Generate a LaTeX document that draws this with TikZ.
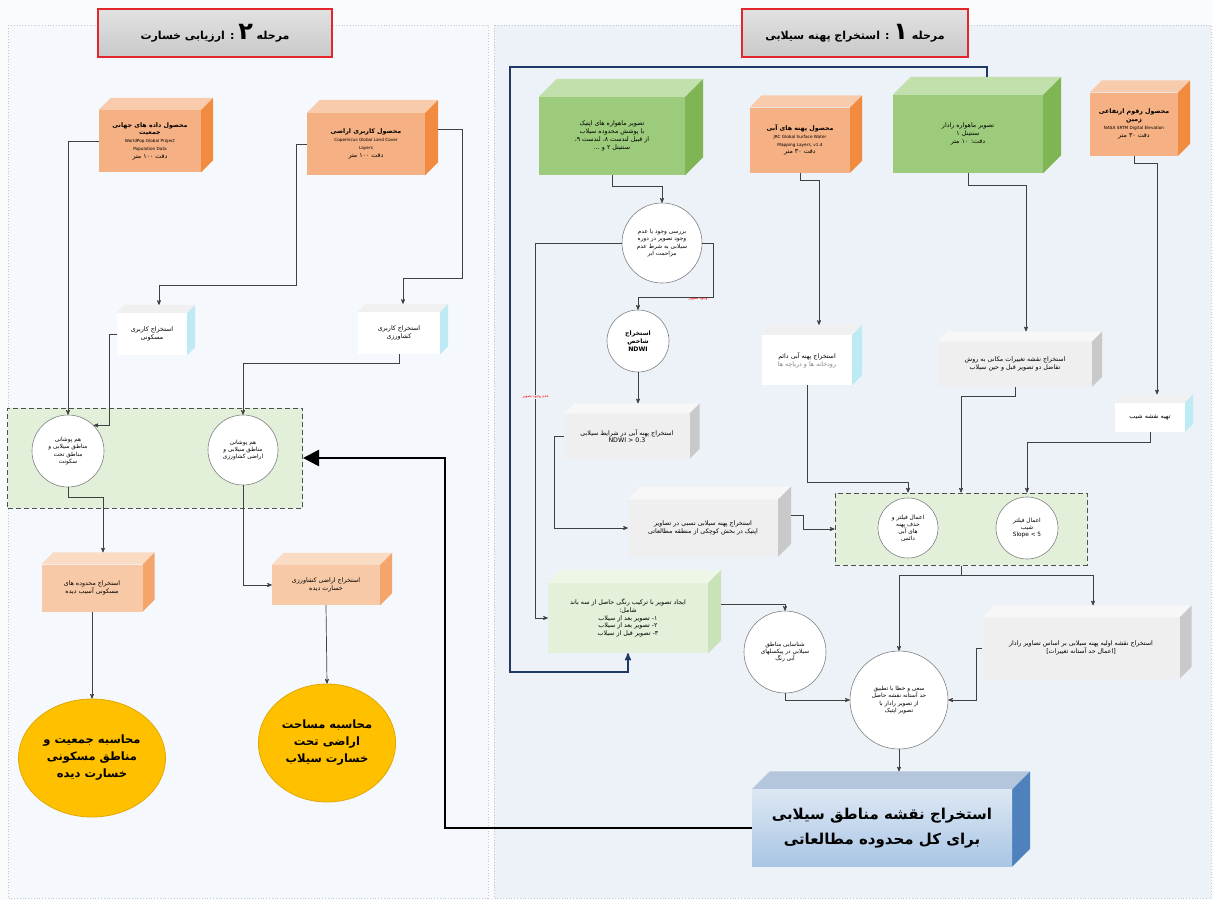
\documentclass[tikz,border=0pt]{standalone}
\usepackage{fontspec}
\newfontfamily\farsi[Script=Arabic]{DejaVu Sans}
\newfontfamily\latin{DejaVu Sans}
\TeXXeTstate=1
\usetikzlibrary{arrows,arrows.meta,positioning,shapes.geometric}
\newcommand{\fa}[1]{\beginR#1\endR}
\newcommand{\lt}[1]{\beginL#1\endL{}}
\newcommand{\en}[1]{{\latin\fontsize{4.2}{5.2}\selectfont #1}}
\newcommand{\la}[1]{{\latin #1}}

\definecolor{pagebg}{HTML}{FAFBFD}
\definecolor{panelL}{HTML}{F5F8FC}
\definecolor{panelR}{HTML}{EDF1F8}
\definecolor{hdrred}{HTML}{E2262B}
\definecolor{hdrT}{HTML}{E2E2E2}
\definecolor{hdrB}{HTML}{C9C9C9}
\definecolor{grnF}{HTML}{9DCB7C}
\definecolor{grnT}{HTML}{C2E0AC}
\definecolor{grnS}{HTML}{7FB552}
\definecolor{orgF}{HTML}{F5B083}
\definecolor{orgT}{HTML}{F8CBAD}
\definecolor{orgS}{HTML}{F08B40}
\definecolor{lorF}{HTML}{F8C9A6}
\definecolor{lorT}{HTML}{FADBC4}
\definecolor{lorS}{HTML}{F3A56C}
\definecolor{gryF}{HTML}{EFEFEF}
\definecolor{gryT}{HTML}{F7F7F7}
\definecolor{gryS}{HTML}{C9C9C9}
\definecolor{cyaF}{HTML}{FFFFFF}
\definecolor{cyaT}{HTML}{F0F0F0}
\definecolor{cyaS}{HTML}{BDEAF3}
\definecolor{lgrF}{HTML}{E4F0DA}
\definecolor{lgrT}{HTML}{EEF6E8}
\definecolor{lgrS}{HTML}{C9E2B7}
\definecolor{bluF}{HTML}{DDE8F4}
\definecolor{bluB}{HTML}{A8C5E5}
\definecolor{bluT}{HTML}{B4C6DC}
\definecolor{bluS}{HTML}{4F81BD}
\definecolor{ylw}{HTML}{FFC000}
\definecolor{ylwline}{HTML}{E0A800}
\definecolor{cirline}{HTML}{808080}
\definecolor{grpfill}{HTML}{E2EFD9}
\definecolor{grpline}{HTML}{505050}
\definecolor{linkc}{HTML}{404040}
\definecolor{navy}{HTML}{1F3864}

\tikzset{
  every picture/.style = {
    >=stealth',
  }
  , % boxes drawn as blocks: front, top, side, depth
  cube/.style n args = {4}{
    rectangle,
    #1,
    inner sep = 1pt,
    align = center,
    font = \farsi\fontsize{6.3}{7.8}\selectfont,
    append after command = {
      \pgfextra{
        \fill[#2] (\tikzlastnode.north west) -- ++(#4pt,#4pt)
          -- ([shift={(#4pt,#4pt)}]\tikzlastnode.north east)
          -- (\tikzlastnode.north east) -- cycle;
        \fill[#3] (\tikzlastnode.north east) -- ++(#4pt,#4pt)
          -- ([shift={(#4pt,#4pt)}]\tikzlastnode.south east)
          -- (\tikzlastnode.south east) -- cycle;
        \coordinate (\tikzlastnode-top) at ([yshift=#4pt]\tikzlastnode.north);
      }
    }
  }
  ,
  proc/.style = {
    circle,
    draw = cirline,
    fill = white,
    line width = 0.6pt,
    inner sep = 0pt,
    align = center,
    font = \farsi\fontsize{5.8}{7.2}\selectfont
  }
  ,
  result/.style = {
    ellipse,
    draw = ylwline,
    fill = ylw,
    line width = 0.8pt,
    minimum width = 135pt,
    minimum height = 118pt,
    align = center,
    font = \farsi\bfseries\fontsize{11.5}{17}\selectfont
  }
  ,
  stage/.style = {
    rectangle,
    draw = hdrred,
    line width = 1.6pt,
    top color = hdrT,
    bottom color = hdrB,
    minimum width = 226pt,
    minimum height = 48pt,
    font = \farsi\bfseries\fontsize{11}{13}\selectfont
  }
  ,
  group/.style = {
    rectangle,
    draw = grpline,
    dash pattern = on 5pt off 3pt,
    line width = 1pt,
    fill = grpfill,
    inner sep = 0pt
  }
  , % connectors
  link/.style = {draw = linkc, line width = 0.7pt, ->},
  navyline/.style = {draw = navy, line width = 1.5pt, ->},
  bigarrow/.style = {draw = black, line width = 2.6pt, -{Triangle[length=16pt,width=16pt]}},
  redlbl/.style = {text = red, font = \farsi\fontsize{3.8}{4.2}\selectfont, inner sep = 0.5pt}
}

\begin{document}
\begin{tikzpicture}[x=1pt, y=-1pt]
  \useasboundingbox (0,0) rectangle (1213,900);
  \fill[pagebg] (0,0) rectangle (1213,900);
  \filldraw[fill=panelL, draw=gray!45, dotted, line width=0.8pt] (8,25) rectangle (488,898);
  \filldraw[fill=panelR, draw=gray!45, dotted, line width=0.8pt] (494,25) rectangle (1211,898);

  % stage headers
  \node[stage, minimum width=234pt] at (215,33) (hdrB) {\fa{مرحله {\fontsize{24}{24}\selectfont ۲} : ارزیابی خسارت}};
  \node[stage] at (855,33) (hdrA) {\fa{مرحله {\fontsize{24}{24}\selectfont ۱} : استخراج پهنه سیلابی}};

  % stage 1
  \node[cube={fill=grnF}{grnT}{grnS}{18}, minimum width=146pt, minimum height=78pt] at (612,136) (opt)
    {\fa{تصویر ماهواره های اپتیک}\\\fa{با پوشش محدوده سیلاب}\\\fa{از قبیل لندست ۸، لندست ۹،}\\\fa{سنتینل ۲ و ...}};
  \node[cube={fill=orgF}{orgT}{orgS}{12}, minimum width=100pt, minimum height=65pt] at (800,140) (jrc)
    {\textbf{\fa{محصول پهنه های آبی}}\\\en{JRC Global Surface Water}\\\en{Mapping Layers, v1.4}\\\fa{دقت \lt{۳۰} متر}};
  \node[cube={fill=grnF}{grnT}{grnS}{18}, minimum width=150pt, minimum height=78pt] at (968,134) (radar)
    {\fa{تصویر ماهواره رادار}\\\fa{سنتینل ۱}\\\fa{دقت: \lt{۱۰} متر}};
  \node[cube={fill=orgF}{orgT}{orgS}{12}, minimum width=88pt, minimum height=63pt] at (1134,124) (dem)
    {\textbf{\fa{محصول رقوم ارتفاعی}}\\\textbf{\fa{زمین}}\\\en{NASA SRTM Digital Elevation}\\\fa{دقت \lt{۳۰} متر}};

  \node[proc, minimum size=80pt] at (662,243) (chk)
    {\fa{بررسی وجود یا عدم}\\\fa{وجود تصویر در دوره}\\\fa{سیلابی به شرط عدم}\\\fa{مزاحمت ابر}};
  \node[proc, minimum size=62pt, font=\farsi\bfseries\fontsize{6.2}{7.8}\selectfont] at (638,341) (ndwi)
    {\fa{استخراج}\\\fa{شاخص}\\\la{NDWI}};
  \node[cube={fill=gryF}{gryT}{gryS}{10}, minimum width=125pt, minimum height=45pt] at (627,436) (wat)
    {\fa{استخراج پهنه آبی در شرایط سیلابی}\\\la{NDWI > 0.3}};
  \node[cube={fill=cyaF}{cyaT}{cyaS}{10}, minimum width=90pt, minimum height=50pt] at (807,360) (perm)
    {\fa{استخراج پهنه آبی دائم}\\{\color{gray}\fa{رودخانه ها و دریاچه ها}}};
  \node[cube={fill=gryF}{gryT}{gryS}{10}, minimum width=154pt, minimum height=45pt] at (1015,364) (chg)
    {\fa{استخراج نقشه تغییرات مکانی به روش}\\\fa{تفاضل دو تصویر قبل و حین سیلاب}};
  \node[cube={fill=cyaF}{cyaT}{cyaS}{8}, minimum width=70pt, minimum height=29pt] at (1150,417) (slope)
    {\fa{تهیه نقشه شیب}};

  \node[group, minimum width=252pt, minimum height=72pt] at (961,529) (grp1) {};
  \node[proc, minimum size=60pt] at (908,528) (flt)
    {\fa{اعمال فیلتر و}\\\fa{حذف پهنه}\\\fa{های آبی}\\\fa{دائمی}};
  \node[proc, minimum size=62pt] at (1027,528) (slp)
    {\fa{اعمال فیلتر}\\\fa{شیب}\\\la{Slope < 5}};

  \node[cube={fill=gryF}{gryT}{gryS}{13}, minimum width=150pt, minimum height=57pt] at (703,528) (rel)
    {\fa{استخراج پهنه سیلابی نسبی در تصاویر}\\\fa{اپتیک در بخش کوچکی از منطقه مطالعاتی}};
  \node[cube={fill=lgrF}{lgrT}{lgrS}{13}, minimum width=160pt, minimum height=70pt] at (628,618) (cmp)
    {\fa{ایجاد تصویر با ترکیب رنگی حاصل از سه باند}\\\fa{شامل:}\\\fa{۱- تصویر بعد از سیلاب}\\\fa{۲- تصویر بعد از سیلاب}\\\fa{۳- تصویر قبل از سیلاب}};
  \node[proc, minimum size=82pt] at (785,652) (det)
    {\fa{شناسایی مناطق}\\\fa{سیلابی در پیکسلهای}\\\fa{آبی رنگ}};
  \node[proc, minimum size=98pt] at (899,700) (trial)
    {\fa{سعی و خطا با تطبیق}\\\fa{حد آستانه نقشه حاصل}\\\fa{از تصویر رادار با}\\\fa{تصویر اپتیک}};
  \node[cube={fill=gryF}{gryT}{gryS}{12}, minimum width=197pt, minimum height=61pt] at (1081,648) (init)
    {\fa{استخراج نقشه اولیه پهنه سیلابی بر اساس تصاویر رادار}\\\fa{[اعمال حد آستانه تغییرات]}};
  \node[cube={top color=bluF, bottom color=bluB}{bluT}{bluS}{18}, minimum width=260pt, minimum height=77pt,
    font=\farsi\bfseries\fontsize{15}{25}\selectfont] at (882,828) (big)
    {\fa{استخراج نقشه مناطق سیلابی}\\\fa{برای کل محدوده مطالعاتی}};

  % stage 2
  \node[cube={fill=orgF}{orgT}{orgS}{12}, minimum width=102pt, minimum height=62pt] at (150,141) (pop)
    {\textbf{\fa{محصول داده های جهانی}}\\\textbf{\fa{جمعیت}}\\\en{WorldPop Global Project}\\\en{Population Data}\\\fa{دقت \lt{۱۰۰} متر}};
  \node[cube={fill=orgF}{orgT}{orgS}{13}, minimum width=118pt, minimum height=62pt] at (366,144) (lc)
    {\textbf{\fa{محصول کاربری اراضی}}\\\en{Copernicus Global Land Cover}\\\en{Layers}\\\fa{دقت \lt{۱۰۰} متر}};
  \node[cube={fill=cyaF}{cyaT}{cyaS}{8}, minimum width=70pt, minimum height=42pt] at (152,334) (res)
    {\fa{استخراج کاربری}\\\fa{مسکونی}};
  \node[cube={fill=cyaF}{cyaT}{cyaS}{8}, minimum width=82pt, minimum height=42pt] at (399,333) (agr)
    {\fa{استخراج کاربری}\\\fa{کشاورزی}};

  \node[group, minimum width=295pt, minimum height=100pt] at (155,458) (grp2) {};
  \node[proc, minimum size=72pt] at (68,451) (resov)
    {\fa{هم پوشانی}\\\fa{مناطق سیلابی و}\\\fa{مناطق تحت}\\\fa{سکونت}};
  \node[proc, minimum size=70pt] at (243,450) (agrov)
    {\fa{هم پوشانی}\\\fa{مناطق سیلابی و}\\\fa{اراضی کشاورزی}};

  \node[cube={fill=lorF}{lorT}{lorS}{12}, minimum width=101pt, minimum height=47pt] at (92,588) (resd)
    {\fa{استخراج محدوده های}\\\fa{مسکونی آسیب دیده}};
  \node[cube={fill=lorF}{lorT}{lorS}{12}, minimum width=108pt, minimum height=40pt] at (326,585) (agrd)
    {\fa{استخراج اراضی کشاورزی}\\\fa{خسارت دیده}};
  \node[result] at (92,758) (popc)
    {\fa{محاسبه جمعیت و}\\\fa{مناطق مسکونی}\\\fa{خسارت دیده}};
  \node[result] at (327,743) (areac)
    {\fa{محاسبه مساحت}\\\fa{اراضی تحت}\\\fa{خسارت سیلاب}};

  % connectors, stage 1
  \coordinate (nvA) at (510,67);
  \coordinate (nvB) at (510,672);
  \draw[navyline] ([shift={(19pt,18pt)}]radar.north) |- (nvA) -- (nvB) -| (cmp.south);
  \draw[link] (opt.south) -- ++(0,11) -| (chk.north);
  \draw[link] (chk.west) -- ++(-86,0) |- node[redlbl, pos=0.205, fill=panelR] {\fa{عدم وجود تصویر}} (cmp.west);
  \draw[link] (chk.east) -- ++(11,0) -- ++(0,54) -| node[redlbl, pos=0.1, below] {\fa{وجود تصویر}} (ndwi.north);
  \draw[link] (ndwi.south) -- (ndwi.south |- wat-top);
  \draw[link] (wat.west) -- ++(-10,0) |- (rel.west);
  \draw[link] ([shift={(13pt,13pt)}]rel.east) -- ++(12,0) |- (grp1.west);
  \draw[link] (jrc.south) -- ++(0,8) -| ([xshift=12pt]perm-top);
  \draw[link] (perm.south) -- ++(0,97) -| (flt |- grp1.north);
  \draw[link] (radar.south) -- ++(0,12) -| ([xshift=11pt]chg-top);
  \draw[link] (chg.south) -- ++(0,10) -| (grp1.north);
  \draw[link] (dem.south) -- ++(0,8) -| ([xshift=7pt]slope-top);
  \draw[link] (slope.south) -- ++(0,11) -| (slp |- grp1.north);
  \draw[linkc, line width=0.7pt] (grp1.south) -- ++(0,10) coordinate (split);
  \draw[link] (split) -| (trial.north);
  \draw[link] (split) -| ([xshift=12pt]init-top);
  \draw[link] ([shift={(13pt,14pt)}]cmp.east) -| (det.north);
  \draw[link] (det.south) |- (trial.west);
  \draw[link] (init.west) -- ++(-6,0) |- (trial.east);
  \draw[link] (trial.south) -- (trial.south |- big-top);
  \draw[bigarrow] (big.west) -- ++(-307,0) |- (grp2.east);

  % connectors, stage 2
  \draw[link] (pop.west) -| (resov.north);
  \draw[link] (lc.west) -- ++(-10,0) -- ++(0,141) -| ([xshift=7pt]res-top);
  \draw[link] ([shift={(13pt,15pt)}]lc.east) -- ++(24,0) -- ++(0,149) -| ([xshift=4pt]agr-top);
  \draw[link] (res.west) -- ++(-7,0) |- (resov.45);
  \draw[link] (agr.south) -- ++(0,9) -| (agrov.north);
  \draw[link] (resov.south) -- ++(0,10) -| ([xshift=11pt]resd-top);
  \draw[link] (agrov.south) |- (agrd.west);
  \draw[link] (resd.south) -- (popc.north);
  \draw[link] (agrd.south) -- (areac.north);
\end{tikzpicture}
\end{document}
